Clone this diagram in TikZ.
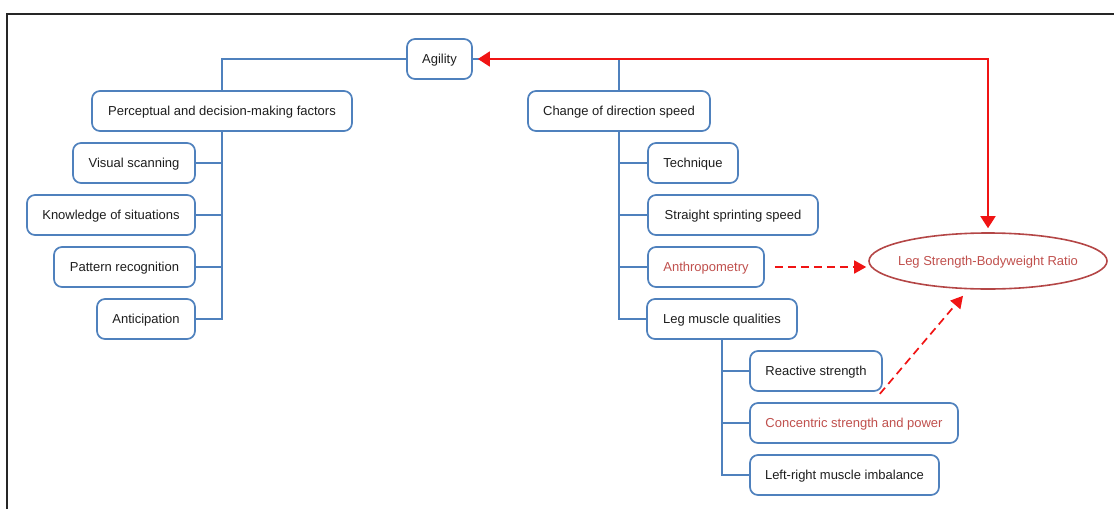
\documentclass[tikz,border=0pt]{standalone}
\usepackage{fontspec}
\setmainfont{Liberation Sans}
\usetikzlibrary{arrows.meta,calc,shapes.geometric}

\definecolor{boxblue}{RGB}{79,129,189}
\definecolor{txtred}{RGB}{192,80,77}
\definecolor{ringred}{RGB}{180,70,70}
\definecolor{linkred}{RGB}{240,20,20}
\definecolor{txtdark}{RGB}{30,30,30}

\begin{document}
\begin{tikzpicture}[x=1pt,y=-1pt,
  every node/.style={font=\fontsize{13}{15}\selectfont, text=txtdark,
                     text height=12.3pt, text depth=3pt},
  factor/.style={draw=boxblue, line width=1.7pt, rounded corners=8pt, fill=white,
                 minimum height=40pt, inner sep=0pt},
  redtext/.style={text=txtred},
  branch/.style={draw=boxblue, line width=1.7pt},
  link/.style={draw=linkred, line width=1.7pt,
               {Triangle[length=12pt,width=15pt]}-{Triangle[length=12pt,width=15pt]}},
  hint/.style={draw=linkred, line width=1.7pt, dash pattern=on 8pt off 5pt,
               -{Triangle[length=12pt,width=13pt]}}
]
\useasboundingbox (0,0) rectangle (1114,509);

% outer frame
\draw[line width=2.6pt, draw=black!85] (7,509) -- (7,14) -- (1114,14);

% root
\node[factor, minimum width=65pt] (agility) at (439.5,59) {Agility};

% left branch
\node[factor, minimum width=260pt] (perc) at (222,111) {Perceptual and decision-making factors};
\node[factor, minimum width=122pt] (visual) at (134,163) {Visual scanning};
\node[factor, minimum width=168pt] (know) at (111,215) {Knowledge of situations};
\node[factor, minimum width=141pt] (pattern) at (124.5,267) {Pattern recognition};
\node[factor, minimum width=98pt] (antic) at (146,319) {Anticipation};

% right branch
\node[factor, minimum width=182pt] (cod) at (619,111) {Change of direction speed};
\node[factor, minimum width=90pt] (tech) at (693,163) {Technique};
\node[factor, minimum width=170pt] (sprint) at (733,215) {Straight sprinting speed};
\node[factor, minimum width=116pt, redtext] (anthro) at (706,267) {Anthropometry};
\node[factor, minimum width=150pt] (legmq) at (722,319) {Leg muscle qualities};
\node[factor, minimum width=132pt] (react) at (816,371) {Reactive strength};
\node[factor, minimum width=208pt, redtext] (conc) at (854,423) {Concentric strength and power};
\node[factor, minimum width=189pt] (lrimb) at (844.5,475) {Left-right muscle imbalance};

% ratio
\node[ellipse, draw=ringred, line width=1.6pt, minimum width=238pt, minimum height=56pt,
      inner sep=0pt] (lsbr) at (988,261) {};
\node[redtext, inner sep=0pt] (lsbrlabel) at (lsbr.center) {Leg Strength-Bodyweight Ratio};

% tree connectors
\draw[branch] (agility.west) -| (perc.north);
\draw[branch] (agility.east) -| (cod.north);
\foreach \c in {visual,know,pattern,antic}
  \draw[branch] (perc.south) |- (\c.east);
\foreach \c in {tech,sprint,anthro,legmq}
  \draw[branch] (cod.south) |- (\c.west);
\foreach \c in {react,conc,lrimb}
  \draw[branch] (legmq.south) |- (\c.west);

% links to the ratio
\coordinate (turn) at (988,59);
\draw[link] ([xshift=5pt]agility.east) -- (turn) -- ([yshift=4pt]lsbr.north);
\draw[hint] ([xshift=10pt]anthro.east) -- ([xshift=-2pt]lsbr.west |- anthro.east);
\draw[hint] ([shift={(-3pt,-2pt)}]react.south east) -- ($(lsbr.south)+(-25,6)$);
\end{tikzpicture}
\end{document}
